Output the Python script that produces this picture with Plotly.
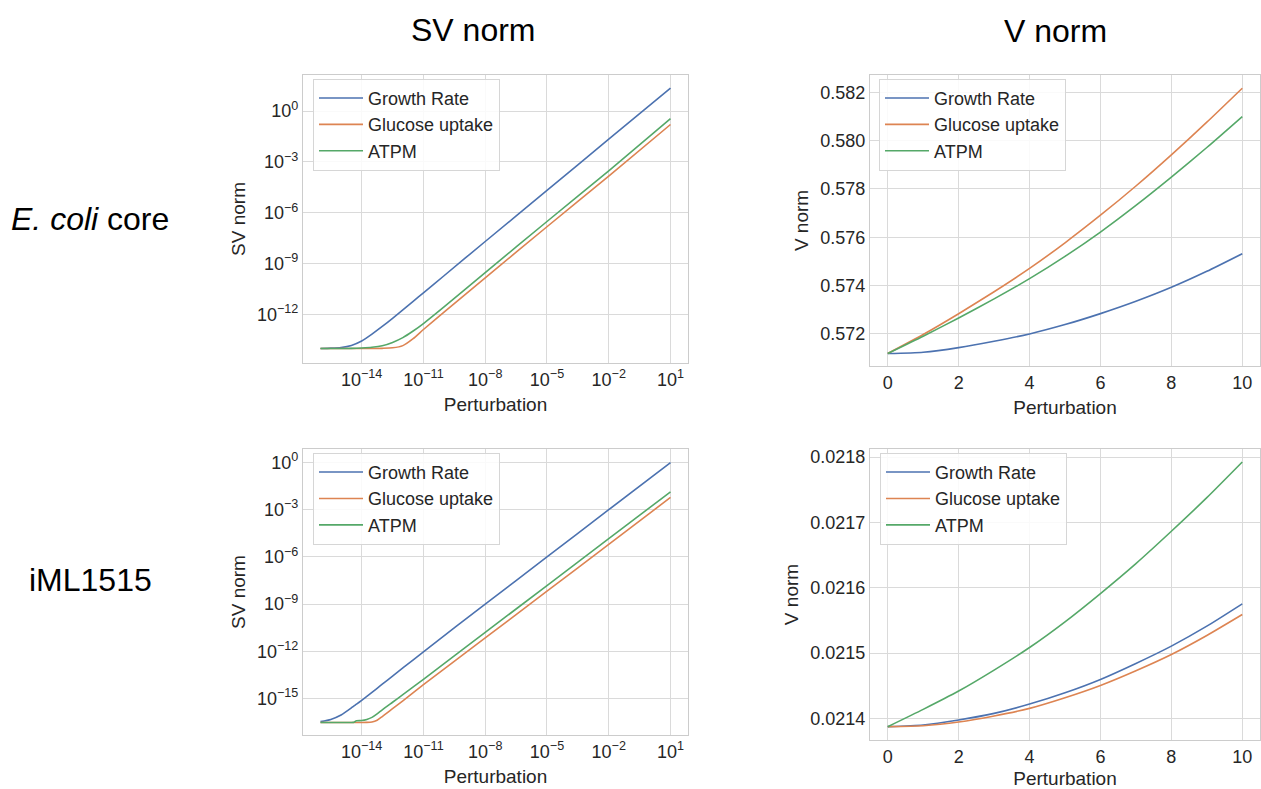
import plotly.graph_objects as go

# ---------------- data ----------------
series_names = ["Growth Rate", "Glucose uptake", "ATPM"]
series_colors = ["#4c72b0", "#dd8452", "#55a868"]

# E. coli core, SV norm (log-log)
pert_log_ecoli = [1e-16, 3.162e-16, 1e-15, 3.162e-15, 1e-14, 3.162e-14, 1e-13, 3.162e-13,
                  1e-12, 3.162e-12, 1e-11, 1e-10, 1e-8, 1e-5, 1e-2, 10]
sv_ecoli_growth = [1.0e-14, 1.047e-14, 1.148e-14, 1.514e-14, 2.754e-14, 7.079e-14, 1.995e-13, 6.026e-13,
                   1.905e-12, 6.026e-12, 1.905e-11, 1.950e-10, 2.042e-8, 2.089e-5, 2.239e-2, 22.91]
sv_ecoli_glucose = [1e-14, 1e-14, 1e-14, 1e-14, 1e-14, 1e-14, 1.023e-14, 1.096e-14,
                    1.479e-14, 3.802e-14, 1.318e-13, 1.380e-12, 1.479e-10, 1.514e-7, 1.479e-4, 0.1622]
sv_ecoli_atpm = [1e-14, 1e-14, 1e-14, 1.023e-14, 1.072e-14, 1.175e-14, 1.445e-14, 2.291e-14,
                 4.365e-14, 1.072e-13, 2.951e-13, 2.818e-12, 3.020e-10, 3.090e-7, 3.020e-4, 0.3631]

# iML1515, SV norm (log-log)
pert_log_iml = [1e-16, 3.162e-16, 1e-15, 3.162e-15, 3.981e-15, 5.623e-15, 1e-14, 1.778e-14, 3.162e-14,
                5.623e-14, 1e-13, 3.162e-13, 1e-12, 1e-11, 1e-8, 1e-5, 1e-2, 10]
sv_iml_growth = [3.388e-17, 4.677e-17, 8.913e-17, 2.512e-16, 3.162e-16, 4.365e-16, 7.586e-16, 1.349e-15, 2.455e-15,
                 4.467e-15, 8.128e-15, 2.630e-14, 8.710e-14, 9.333e-13, 1.0e-9, 1.0e-6, 1.0e-3, 1.0]
sv_iml_glucose = [2.951e-17, 2.951e-17, 2.951e-17, 2.951e-17, 2.951e-17, 2.951e-17, 2.951e-17, 3.020e-17, 3.236e-17,
                  4.169e-17, 7.079e-17, 2.239e-16, 7.079e-16, 7.586e-15, 7.079e-12, 6.607e-9, 6.310e-6, 6.026e-3]
sv_iml_atpm = [2.951e-17, 2.951e-17, 2.951e-17, 2.951e-17, 3.020e-17, 3.802e-17, 3.981e-17, 4.677e-17, 6.310e-17,
               1.047e-16, 1.905e-16, 5.754e-16, 1.738e-15, 1.660e-14, 1.585e-11, 1.514e-8, 1.445e-5, 1.380e-2]

# V norm (linear)
pert_lin = [0, 1, 2, 3, 4, 5, 6, 7, 8, 9, 10]
v_ecoli_growth = [0.57119, 0.571245, 0.571435, 0.571697, 0.572000, 0.572386, 0.572840, 0.573350, 0.573928, 0.574590, 0.575320]
v_ecoli_glucose = [0.57119, 0.571975, 0.572835, 0.573745, 0.574710, 0.575770, 0.576910, 0.578120, 0.579410, 0.580760, 0.582165]
v_ecoli_atpm = [0.57119, 0.571904, 0.572661, 0.573450, 0.574287, 0.575209, 0.576215, 0.577317, 0.578488, 0.579713, 0.580994]

v_iml_growth = [0.0213873, 0.0213898, 0.0213975, 0.0214076, 0.0214219, 0.0214392, 0.0214596, 0.0214841, 0.0215106, 0.0215411, 0.0215753]
v_iml_glucose = [0.0213873, 0.0213888, 0.0213944, 0.0214036, 0.0214153, 0.0214316, 0.0214504, 0.0214729, 0.0214978, 0.0215269, 0.0215590]
v_iml_atpm = [0.0213873, 0.0214138, 0.0214418, 0.0214739, 0.0215085, 0.0215478, 0.0215911, 0.0216369, 0.0216864, 0.0217378, 0.0217924]

# tick labels
log_x_ticks = [1e-14, 1e-11, 1e-8, 1e-5, 1e-2, 10]
log_x_text = ["10<sup>\u221214</sup>", "10<sup>\u221211</sup>", "10<sup>\u22128</sup>",
              "10<sup>\u22125</sup>", "10<sup>\u22122</sup>", "10<sup>1</sup>"]
ecoli_sv_ticks = [1, 1e-3, 1e-6, 1e-9, 1e-12]
ecoli_sv_text = ["10<sup>0</sup>", "10<sup>\u22123</sup>", "10<sup>\u22126</sup>", "10<sup>\u22129</sup>", "10<sup>\u221212</sup>"]
iml_sv_ticks = [1, 1e-3, 1e-6, 1e-9, 1e-12, 1e-15]
iml_sv_text = ["10<sup>0</sup>", "10<sup>\u22123</sup>", "10<sup>\u22126</sup>", "10<sup>\u22129</sup>",
               "10<sup>\u221212</sup>", "10<sup>\u221215</sup>"]
lin_x_ticks = [0, 2, 4, 6, 8, 10]
ecoli_v_ticks = [0.572, 0.574, 0.576, 0.578, 0.580, 0.582]
iml_v_ticks = [0.0214, 0.0215, 0.0216, 0.0217, 0.0218]

col_titles = ["SV norm", "V norm"]
row_titles = ["<i>E. coli</i> core", "iML1515"]

# ---------------- figure ----------------
W, H = 1261, 789
FONT = "Arial, Liberation Sans, sans-serif"
TXT = "#262626"

fig = go.Figure()

panels = [
    ("x", "y", "legend", pert_log_ecoli, [sv_ecoli_growth, sv_ecoli_glucose, sv_ecoli_atpm]),
    ("x2", "y2", "legend2", pert_lin, [v_ecoli_growth, v_ecoli_glucose, v_ecoli_atpm]),
    ("x3", "y3", "legend3", pert_log_iml, [sv_iml_growth, sv_iml_glucose, sv_iml_atpm]),
    ("x4", "y4", "legend4", pert_lin, [v_iml_growth, v_iml_glucose, v_iml_atpm]),
]
for xa, ya, lg, xs, ys_list in panels:
    for name, color, ys in zip(series_names, series_colors, ys_list):
        fig.add_trace(go.Scatter(x=xs, y=ys, mode="lines", name=name, xaxis=xa, yaxis=ya,
                                 legend=lg, line=dict(color=color, width=1.6, shape="spline", smoothing=0.6)))

def px_x(a, b):
    return [a / W, b / W]

def px_y(top, bottom):
    return [1 - bottom / H, 1 - top / H]

common = dict(showline=True, mirror=True, linecolor="#cccccc", linewidth=1.2,
              showgrid=True, gridcolor="#dadada", gridwidth=1.2, zeroline=False, ticks="",
              tickfont=dict(size=18, color=TXT, family=FONT))

def xtitle(t):
    return dict(text=t, font=dict(size=19, color=TXT, family=FONT), standoff=8)

def ytitle(t):
    return dict(text=t, font=dict(size=19, color=TXT, family=FONT), standoff=6)

fig.update_layout(
    xaxis=dict(common, domain=px_x(303, 688), anchor="y", type="log", range=[-16.85, 1.85],
               tickvals=log_x_ticks, ticktext=log_x_text, title=xtitle("Perturbation")),
    yaxis=dict(common, domain=px_y(73, 362), anchor="x", type="log", range=[-14.86, 2.14],
               tickvals=ecoli_sv_ticks, ticktext=ecoli_sv_text, title=ytitle("SV norm")),
    xaxis2=dict(common, domain=px_x(870, 1260), anchor="y2", range=[-0.5, 10.5],
                tickvals=lin_x_ticks, title=xtitle("Perturbation")),
    yaxis2=dict(common, domain=px_y(73, 365), anchor="x2", range=[0.57067, 0.58272],
                tickvals=ecoli_v_ticks, tickformat=".3f", title=ytitle("V norm")),
    xaxis3=dict(common, domain=px_x(303, 688), anchor="y3", type="log", range=[-16.85, 1.85],
                tickvals=log_x_ticks, ticktext=log_x_text, title=xtitle("Perturbation")),
    yaxis3=dict(common, domain=px_y(448, 735), anchor="x3", type="log", range=[-17.33, 0.87],
                tickvals=iml_sv_ticks, ticktext=iml_sv_text, title=ytitle("SV norm")),
    xaxis4=dict(common, domain=px_x(870, 1260), anchor="y4", range=[-0.5, 10.5],
                tickvals=lin_x_ticks, title=xtitle("Perturbation")),
    yaxis4=dict(common, domain=px_y(448, 740), anchor="x4", range=[0.0213667, 0.0218125],
                tickvals=iml_v_ticks, tickformat=".4f", title=ytitle("V norm")),
)

leg_common = dict(xanchor="left", yanchor="top", bgcolor="rgba(255,255,255,0.85)",
                  bordercolor="#d6d6d6", borderwidth=1, itemwidth=44,
                  font=dict(size=18, color=TXT, family=FONT))
fig.update_layout(
    legend=dict(leg_common, x=313 / W, y=1 - 77 / H),
    legend2=dict(leg_common, x=879 / W, y=1 - 77 / H),
    legend3=dict(leg_common, x=313 / W, y=1 - 452 / H),
    legend4=dict(leg_common, x=880 / W, y=1 - 452 / H),
)

annotations = [
    dict(text=col_titles[0], x=473 / W, y=1 - 28 / H),
    dict(text=col_titles[1], x=1055 / W, y=1 - 29 / H),
    dict(text=row_titles[0], x=90 / W, y=1 - 218 / H),
    dict(text=row_titles[1], x=90 / W, y=1 - 579 / H),
]
for a in annotations:
    fig.add_annotation(xref="paper", yref="paper", showarrow=False, xanchor="center", yanchor="middle",
                       font=dict(size=32, color="#000000", family=FONT), **a)

fig.update_layout(width=W, height=H, margin=dict(l=0, r=0, t=0, b=0),
                  paper_bgcolor="white", plot_bgcolor="white", font=dict(family=FONT, color=TXT),
                  showlegend=True)

fig.write_html("out.html", config={"displayModeBar": False},
               post_script="document.body.style.margin='0';document.body.style.overflow='hidden';")
